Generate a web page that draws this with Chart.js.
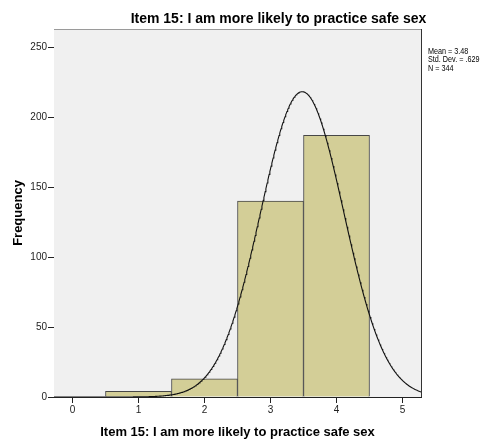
<!DOCTYPE html>
<html>
<head>
<meta charset="utf-8">
<script src="https://cdn.jsdelivr.net/npm/chart.js@4/dist/chart.umd.min.js"></script>
<style>
  html, body { margin: 0; padding: 0; background: #ffffff; }
  #wrap { width: 499px; height: 444px; }
</style>
</head>
<body>
<div id="wrap"><canvas id="c" width="499" height="444"></canvas></div>
<script>
// Histogram of responses with a fitted normal curve
const TITLE = 'Item 15: I am more likely to practice safe sex';
const X_LABEL = 'Item 15: I am more likely to practice safe sex';
const Y_LABEL = 'Frequency';

const BIN_CENTERS = [1, 2, 3, 4];
const FREQUENCIES = [4, 13, 140, 187];

const X_TICKS = [0, 1, 2, 3, 4, 5];
const Y_TICKS = [0, 50, 100, 150, 200, 250];

const MEAN = 3.48;
const STD_DEV = 0.629;
const N_CASES = 344;
const BIN_WIDTH = 1;

const X_MIN = -0.28, X_MAX = 5.28;
const Y_MIN = 0, Y_MAX = 263;

const STATS_LINES = ['Mean = 3.48', 'Std. Dev. = .629', 'N = 344'];

// Normal density scaled to counts per bin
const curve = [];
for (let i = 0; i <= 556; i++) {
  const x = X_MIN + i * 0.01;
  const z = (x - MEAN) / STD_DEV;
  const y = N_CASES * BIN_WIDTH / (STD_DEV * Math.sqrt(2 * Math.PI)) * Math.exp(-0.5 * z * z);
  curve.push({ x: x, y: y });
}

const FONT = "'Liberation Sans', Arial, sans-serif";

const frame = {
  id: 'frame',
  beforeDatasetsDraw(chart) {
    const a = chart.chartArea, ctx = chart.ctx;
    ctx.save();
    ctx.fillStyle = '#f0f0f0';
    ctx.fillRect(a.left, a.top, a.right - a.left, a.bottom - a.top);
    ctx.restore();
  },
  afterDraw(chart) {
    const a = chart.chartArea, ctx = chart.ctx;
    ctx.save();
    ctx.lineWidth = 1;
    ctx.strokeStyle = '#9a9a9a';
    ctx.beginPath();
    ctx.moveTo(a.left, a.top + 0.5);
    ctx.lineTo(a.right, a.top + 0.5);
    ctx.stroke();
    ctx.strokeStyle = '#333333';
    ctx.beginPath();
    ctx.moveTo(a.right + 0.5, a.top);
    ctx.lineTo(a.right + 0.5, a.bottom);
    ctx.stroke();

    ctx.fillStyle = '#000000';
    ctx.textBaseline = 'alphabetic';
    ctx.textAlign = 'center';
    ctx.font = 'bold 14px ' + FONT;
    ctx.fillText(TITLE, 278.5, 23);

    ctx.font = 'bold 13px ' + FONT;
    ctx.fillText(X_LABEL, (a.left + a.right) / 2, 436);

    ctx.save();
    ctx.translate(21.5, (a.top + a.bottom) / 2);
    ctx.rotate(-Math.PI / 2);
    ctx.fillText(Y_LABEL, 0, 0);
    ctx.restore();

    // Summary statistics in a slightly condensed face
    ctx.textAlign = 'left';
    ctx.font = '8.5px ' + FONT;
    STATS_LINES.forEach((t, i) => {
      ctx.save();
      ctx.translate(428, 53.5 + i * 8.5);
      ctx.scale(0.85, 1);
      ctx.fillText(t, 0, 0);
      ctx.restore();
    });
    ctx.restore();
  }
};

new Chart(document.getElementById('c'), {
  type: 'bar',
  data: {
    datasets: [
      {
        type: 'line',
        data: curve,
        borderColor: '#111111',
        borderWidth: 1.1,
        pointRadius: 0,
        tension: 0,
        fill: false,
        order: 0
      },
      {
        type: 'bar',
        data: BIN_CENTERS.map((c, i) => ({ x: c, y: FREQUENCIES[i] })),
        backgroundColor: '#d3ce97',
        borderColor: '#474747',
        borderWidth: 1,
        borderSkipped: 'bottom',
        barPercentage: 1,
        categoryPercentage: 1,
        grouped: false,
        order: 1
      }
    ]
  },
  options: {
    responsive: false,
    animation: false,
    layout: { padding: { left: 0, top: 29, right: 78, bottom: 0 } },
    plugins: { legend: { display: false }, tooltip: { enabled: false }, title: { display: false } },
    scales: {
      x: {
        type: 'linear',
        offset: false,
        min: X_MIN,
        max: X_MAX,
        afterBuildTicks(scale) { scale.ticks = X_TICKS.map(v => ({ value: v })); },
        afterFit(scale) { scale.height = 47; },
        grid: { display: true, offset: false, drawOnChartArea: false, drawTicks: true, tickLength: 6, tickColor: '#222222', tickWidth: 1 },
        border: { display: true, color: '#222222', width: 1 },
        ticks: { font: { family: FONT, size: 10 }, color: '#222222', padding: 1, maxRotation: 0, autoSkip: false }
      },
      y: {
        type: 'linear',
        min: Y_MIN,
        max: Y_MAX,
        afterBuildTicks(scale) { scale.ticks = Y_TICKS.map(v => ({ value: v })); },
        afterFit(scale) { scale.width = 54; },
        grid: { display: true, drawOnChartArea: false, drawTicks: true, tickLength: 6, tickColor: '#222222', tickWidth: 1 },
        border: { display: true, color: '#222222', width: 1 },
        ticks: { font: { family: FONT, size: 10 }, color: '#222222', padding: 1, autoSkip: false }
      }
    }
  },
  plugins: [frame]
});
</script>
</body>
</html>
